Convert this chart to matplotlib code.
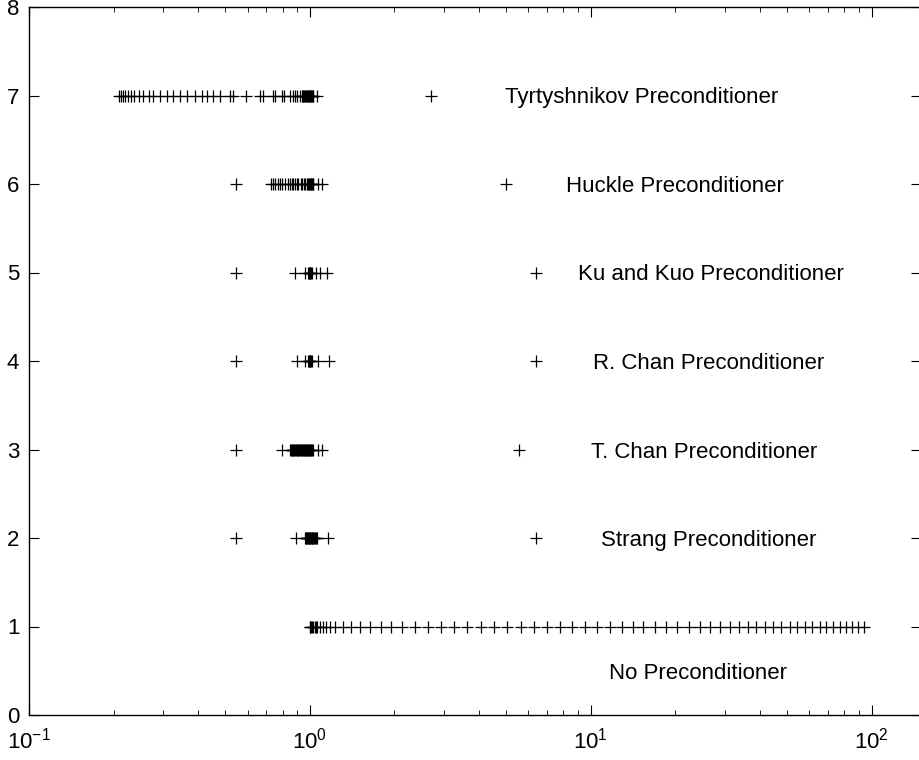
import matplotlib
matplotlib.use('Agg')
import matplotlib.pyplot as plt
from matplotlib.ticker import LogLocator, FixedLocator

plt.rcParams['font.family'] = ['Liberation Sans', 'DejaVu Sans']
plt.rcParams['mathtext.default'] = 'regular'

# spectra of the preconditioned systems
no_prec = [1.000, 1.005, 1.010, 1.020, 1.030, 1.040, 1.050, 1.059, 1.085, 1.112,
           1.139, 1.177, 1.227, 1.309, 1.398, 1.504, 1.632, 1.785, 1.953, 2.137,
           2.376, 2.642, 2.938, 3.267, 3.633, 4.073, 4.529, 5.037, 5.646, 6.280,
           6.982, 7.767, 8.562, 9.522, 10.50, 11.68, 12.88, 14.09, 15.41, 17.00,
           18.60, 20.35, 22.44, 24.55, 26.64, 28.91, 31.37, 33.77, 36.34, 38.80,
           41.75, 44.57, 47.58, 51.20, 54.20, 57.86, 61.26, 65.40, 68.69, 72.71,
           76.99, 80.86, 84.94, 89.22, 93.67]
strang = [0.545, 0.892, 0.960, 0.965, 0.970, 0.975, 0.980, 0.985, 0.990, 0.995,
          1.000, 1.005, 1.010, 1.015, 1.020, 1.025, 1.030, 1.036, 1.042, 1.048,
          1.054, 1.060, 1.159, 6.37]
t_chan = [0.545, 0.796, 0.850, 0.856, 0.862, 0.868, 0.874, 0.880, 0.886, 0.892,
          0.898, 0.904, 0.910, 0.916, 0.922, 0.928, 0.934, 0.940, 0.946, 0.952,
          0.958, 0.964, 0.970, 0.976, 0.982, 0.988, 0.994, 1.000, 1.006, 1.012,
          1.018, 1.024, 1.067, 1.103, 5.54]
r_chan = [0.545, 0.899, 0.960, 0.984, 0.990, 0.995, 1.000, 1.005, 1.010, 1.015,
          1.067, 1.167, 6.37]
ku_kuo = [0.545, 0.885, 0.960, 0.984, 0.990, 0.995, 1.000, 1.005, 1.010, 1.015,
          1.050, 1.085, 1.149, 6.37]
huckle = [0.545, 0.727, 0.739, 0.752, 0.770, 0.783, 0.796, 0.815, 0.836, 0.849,
          0.863, 0.870, 0.885, 0.899, 0.907, 0.929, 0.937, 0.952, 0.964, 0.976,
          0.982, 0.988, 0.994, 1.000, 1.006, 1.012, 1.018, 1.024, 1.030, 1.067,
          1.103, 4.98]
tyrtyshnikov = [0.2085, 0.2120, 0.2154, 0.2190, 0.2244, 0.2300, 0.2357, 0.2455, 0.2537, 0.2664,
                0.2775, 0.2938, 0.3111, 0.3267, 0.3459, 0.3663, 0.3911, 0.4140, 0.4313, 0.4529,
                0.4796, 0.5203, 0.5333, 0.5930, 0.6648, 0.6813, 0.7394, 0.7516, 0.7957, 0.8088,
                0.8494, 0.8704, 0.8847, 0.8994, 0.9216, 0.9367, 0.942, 0.948, 0.954, 0.960,
                0.966, 0.972, 0.978, 0.984, 0.990, 0.996, 1.000, 1.006, 1.012, 1.018,
                1.024, 1.030, 1.059, 2.70]

rows = [no_prec, strang, t_chan, r_chan, ku_kuo, huckle, tyrtyshnikov]
row_levels = [1, 2, 3, 4, 5, 6, 7]

labels = ['No Preconditioner', 'Strang Preconditioner', 'T. Chan Preconditioner',
          'R. Chan Preconditioner', 'Ku and Kuo Preconditioner', 'Huckle Preconditioner',
          'Tyrtyshnikov Preconditioner']
label_x = [11.6, 10.9, 10.0, 10.2, 8.99, 8.15, 4.94]
label_y = [0.5, 2, 3, 4, 5, 6, 7]

fig = plt.figure(figsize=(9.2, 7.6), dpi=100)
ax = fig.add_axes([29 / 920, 45 / 760, 892 / 920, 708 / 760])

for vals, lev in zip(rows, row_levels):
    ax.plot(vals, [lev] * len(vals), linestyle='none', marker='+', color='black',
            markersize=9, markeredgewidth=0.9)

for txt, tx, ty in zip(labels, label_x, label_y):
    ax.text(tx, ty, txt, ha='left', va='center_baseline', fontsize=16)

ax.set_xscale('log')
ax.set_xlim(0.1, 150)
ax.set_ylim(0, 8)
ax.xaxis.set_major_locator(FixedLocator([0.1, 1, 10, 100]))
ax.xaxis.set_minor_locator(LogLocator(base=10, subs=range(2, 10), numticks=20))
ax.set_yticks(range(0, 9))
ax.tick_params(which='both', direction='in', top=True, right=True, labelsize=16)
ax.tick_params(axis='x', pad=9)
ax.tick_params(axis='y', pad=7)
ax.tick_params(which='major', length=7, width=0.8)
ax.tick_params(which='minor', length=3.5, width=0.6)
for s in ax.spines.values():
    s.set_linewidth(1.0)

fig.savefig('out.png', dpi=100)
